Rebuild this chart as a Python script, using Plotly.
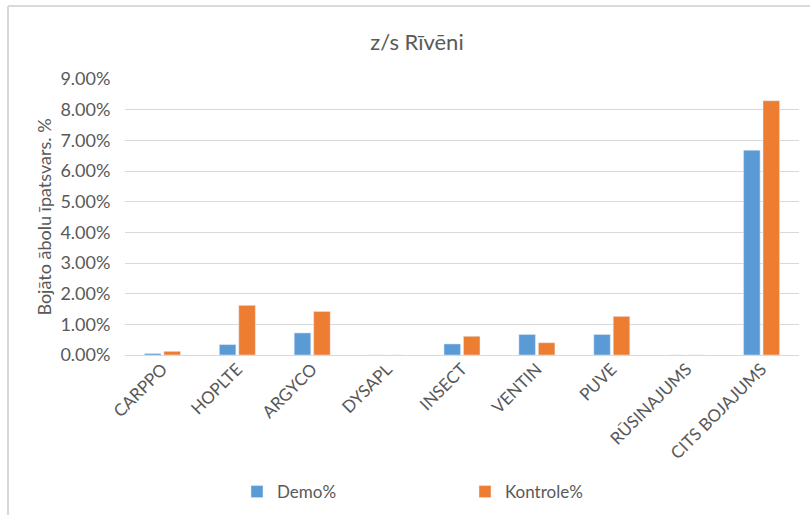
import plotly.graph_objects as go

categories = ["CARPPO", "HOPLTE", "ARGYCO", "DYSAPL", "INSECT", "VENTIN", "PUVE", "RŪSINAJUMS", "CITS BOJAJUMS"]
demo = [0.0005, 0.0034, 0.0072, 0.0, 0.0036, 0.0067, 0.0067, 0.0, 0.0668]
kontrole = [0.0012, 0.0162, 0.0142, 0.0, 0.0061, 0.0040, 0.0126, 0.0, 0.0829]
y_ticks = [i / 100 for i in range(0, 10)]

W, H = 810, 515
ML, MR, MT, MB = 125, 11, 79, 160
PW, PH = W - ML - MR, H - MT - MB

font_fam = "Lato, 'Open Sans', sans-serif"
gray = "#595959"

fig = go.Figure()
fig.add_trace(go.Bar(name="Demo%", x=categories, y=demo, marker_color="#5B9BD5"))
fig.add_trace(go.Bar(name="Kontrole%", x=categories, y=kontrole, marker_color="#ED7D31"))

fig.update_layout(
    width=W, height=H,
    margin=dict(l=ML, r=MR, t=MT, b=MB, autoexpand=False),
    paper_bgcolor="white", plot_bgcolor="white",
    barmode="group", bargap=0.48, bargroupgap=0.15,
    font=dict(family=font_fam, color=gray, size=16),
    title=dict(text="z/s Rīvēni", x=(417 - ML) / PW, xref="paper", xanchor="center",
               y=1 - 42 / H, yanchor="middle",
               font=dict(size=22, color=gray, family=font_fam)),
    xaxis=dict(tickangle=-45, showgrid=False, showline=False, ticks="",
               automargin=False, tickfont=dict(size=17, color=gray)),
    yaxis=dict(range=[0, 0.09], tickvals=y_ticks, tickformat=".2%",
               showgrid=True, gridcolor="#D9D9D9", gridwidth=1,
               zeroline=True, zerolinecolor="#D9D9D9", zerolinewidth=1,
               showline=False, ticks="outside", ticklen=10,
               tickcolor="rgba(0,0,0,0)", automargin=False,
               tickfont=dict(size=18, color=gray),
               title=dict(text="Bojāto ābolu īpatsvars. %", standoff=4,
                          font=dict(size=18, color=gray))),
    legend=dict(orientation="h", x=(237 - ML) / PW, xanchor="left",
                y=-(492 - (H - MB)) / PH, yanchor="middle",
                entrywidth=183, entrywidthmode="pixels",
                font=dict(size=17, color=gray)),
    showlegend=True,
)

# Chart frame (only left and top edges visible in the reference)
fig.add_shape(type="line", xref="paper", yref="paper",
              x0=-(ML - 8) / PW, x1=(W - ML + 5) / PW,
              y0=1 + (MT - 6) / PH, y1=1 + (MT - 6) / PH,
              line=dict(color="#D9D9D9", width=2))
fig.add_shape(type="line", xref="paper", yref="paper",
              x0=-(ML - 8) / PW, x1=-(ML - 8) / PW,
              y0=1 + (MT - 6) / PH, y1=-(MB + 5) / PH,
              line=dict(color="#D9D9D9", width=2))

fig.write_html("out.html")
